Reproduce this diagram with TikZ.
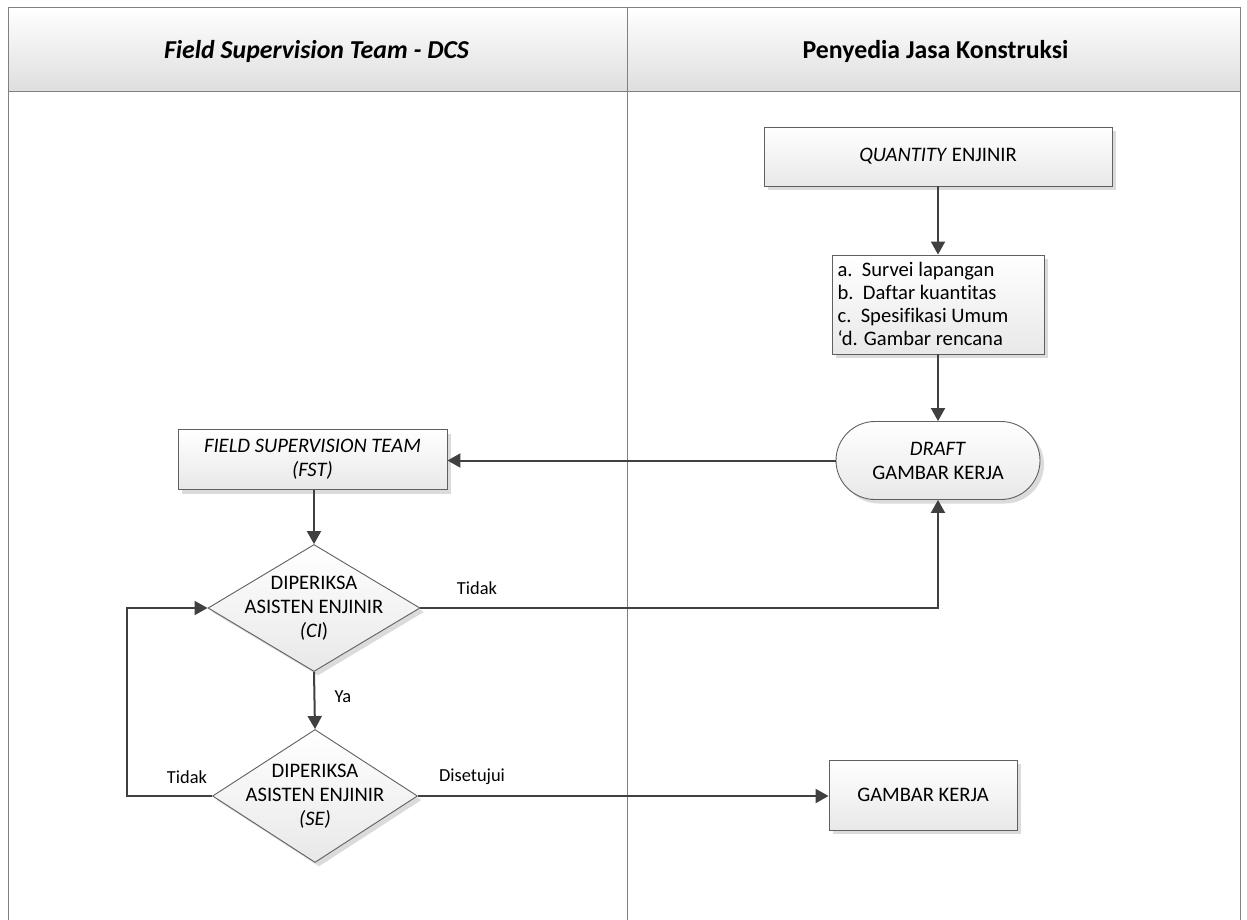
\documentclass[tikz,border=0pt]{standalone}
\usepackage{fontspec}
\setmainfont{Carlito}[Ligatures=NoCommon]
\usetikzlibrary{shapes.geometric,arrows.meta,shadows,calc}

\definecolor{linecol}{HTML}{404040}
\definecolor{framecol}{HTML}{808080}
\definecolor{edgecol}{HTML}{606060}

\tikzset{
  boxbase/.style={draw=edgecol, line width=0.9pt, top color=white, bottom color=black!9,
    drop shadow={shadow xshift=4pt, shadow yshift=-4pt, fill=black!14, opacity=1}},
  procbox/.style={boxbase, rectangle, align=center, inner sep=0pt},
  termbox/.style={boxbase, rectangle, rounded corners=39pt, align=center, inner sep=0pt},
  decide/.style={boxbase, diamond, inner sep=0pt},
  txt/.style={font=\fontsize{20.6}{24}\selectfont, align=center},
  lbl/.style={font=\fontsize{18.4}{21}\selectfont},
  hdr/.style={font=\fontsize{25.8}{30}\selectfont\bfseries},
  flow/.style={draw=linecol, line width=2pt, -{Triangle[length=13pt,width=14pt]}},
}

\begin{document}
\begin{tikzpicture}[x=1pt,y=-1pt]
\useasboundingbox (0,0) rectangle (1247,920);
\fill[white] (0,0) rectangle (1247,920);

% swimlane header
\shade[top color=white, bottom color=black!13] (8,8) rectangle (1240,92);
\draw[framecol, line width=1pt] (8,925) -- (8,8) -- (1240,8) -- (1240,925);
\draw[framecol, line width=1pt] (8,92) -- (1240,92);
\draw[framecol, line width=1pt] (627,8) -- (627,925);
\node[hdr, font=\fontsize{25.8}{30}\selectfont\bfseries\itshape] (h1) at (316.5,51) {Field Supervision Team - DCS};
\node[hdr] (h2) at (935.5,51) {Penyedia Jasa Konstruksi};

% contractor lane
\node[procbox, minimum width=348pt, minimum height=59pt, txt] (qe) at (938,156.5) {\textit{QUANTITY} ENJINIR};
\node[procbox, minimum width=212pt, minimum height=99pt] (list) at (938,304.5) {};
\node[font=\fontsize{20.6}{23}\selectfont, align=left, anchor=west] (listtxt) at (834,304)
  {a.\ \ Survei lapangan\\b.\ \ Daftar kuantitas\\c.\ \ Spesifikasi Umum\\‘d. Gambar rencana};
\node[termbox, minimum width=204pt, minimum height=78pt, txt] (draft) at (938,460.5) {\textit{DRAFT}\\GAMBAR KERJA};
\node[procbox, minimum width=188pt, minimum height=70pt, txt] (gk) at (923,795) {GAMBAR KERJA};

% supervision lane
\node[procbox, minimum width=269pt, minimum height=60pt, txt] (fst) at (312.5,459.5) {\textit{FIELD SUPERVISION TEAM}\\\textit{(FST)}};
\node[decide, minimum width=212pt, minimum height=127pt] (d1) at (314,608) {};
\node[txt] (d1txt) at (314,608) {DIPERIKSA\\ASISTEN ENJINIR\\\textit{(CI})};
\node[decide, minimum width=205pt, minimum height=133pt] (d2) at (315,796) {};
\node[txt] (d2txt) at (315,796) {DIPERIKSA\\ASISTEN ENJINIR\\\textit{(SE)}};

\coordinate (loopx) at (127,796);

% connectors
\draw[flow] (qe.south) -- (list.north);
\draw[flow] (list.south) -- (draft.north);
\draw[flow] (draft.west) -- (draft.west -| fst.east);
\draw[flow] (fst.south -| d1.north) -- (d1.north);
\draw[flow] (d1.east) -| (draft.south);
\draw[flow] (d1.south) -- (d2.north);
\draw[flow] (d2.west) -- (loopx) |- (d1.west);
\draw[flow] (d2.east) -- (d2.east -| gk.west);

% connector labels
\node[lbl] (lt1) at (477,588) {Tidak};
\node[lbl, anchor=west] (lya) at (331,697) {Ya};
\node[lbl] (lt2) at (187,777) {Tidak};
\node[lbl] (lds) at (472,777) {Disetujui};
\end{tikzpicture}
\end{document}
